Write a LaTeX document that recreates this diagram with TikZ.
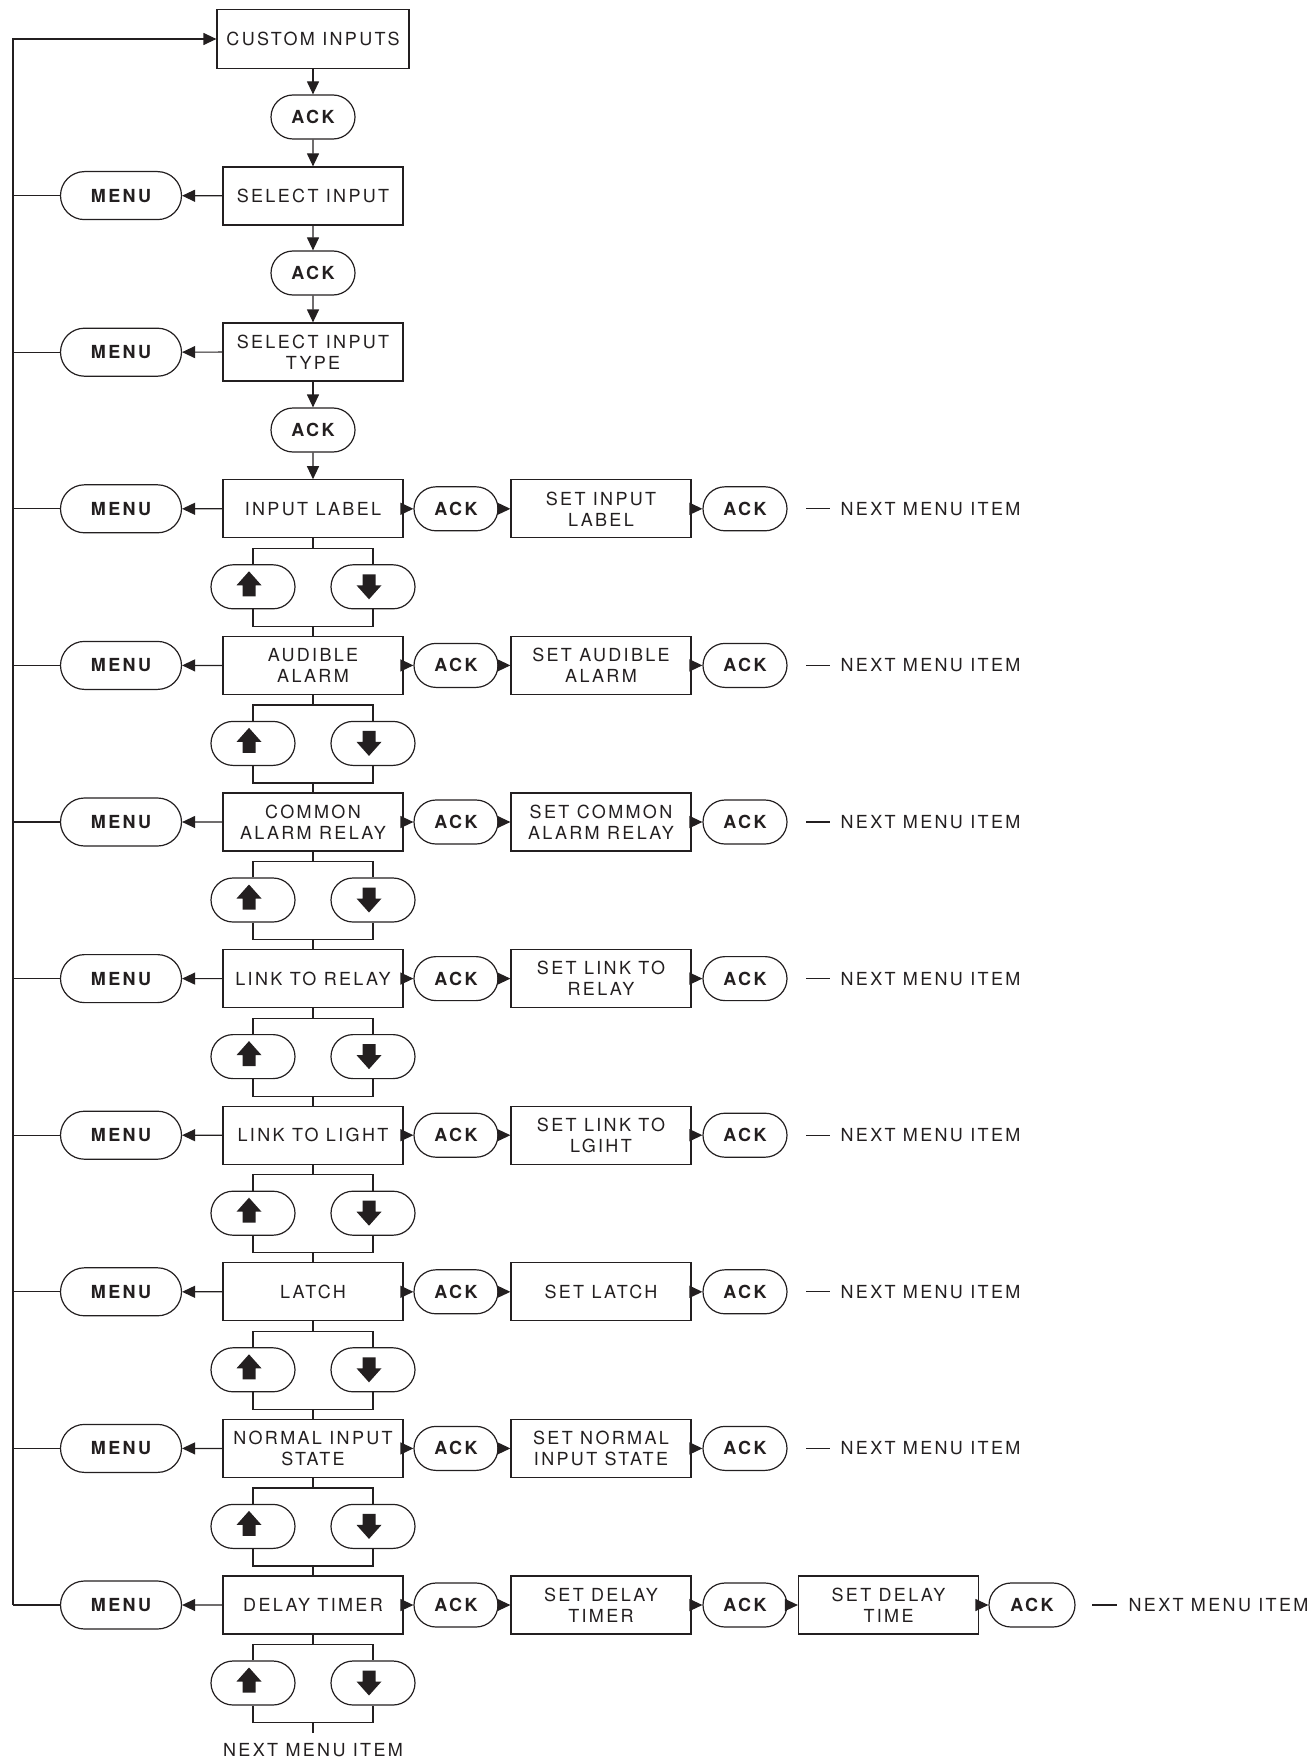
\documentclass[tikz,border=0pt]{standalone}
\usepackage{fontspec}
\setmainfont{TeX Gyre Heros}[LetterSpace=13]
\usetikzlibrary{shapes.misc,      % boutons arrondis
           arrows.meta,           % pointes de flèches
           positioning,
           calc}
\definecolor{ink}{HTML}{231F20}

\begin{document}
\begin{tikzpicture}[x=0.5pt,y=-0.5pt,line width=0.6pt,color=ink,
  font=\fontsize{9}{10.5}\selectfont,
  >={Triangle[length=6.5pt,width=6pt]},
  boite/.style={draw,minimum width=90pt,minimum height=29pt,inner sep=0pt,align=center},
  bouton/.style={draw,rounded rectangle,minimum width=42pt,minimum height=22pt,inner sep=0pt,
                 font=\fontsize{9}{10.5}\selectfont\bfseries},
  boutonmenu/.style={bouton,minimum width=60.5pt,minimum height=24pt},
  suite/.style={anchor=west,inner sep=0pt}]
\useasboundingbox (0,0) rectangle (1314,1760);
\node[boite,minimum width=96pt,minimum height=29.5pt](box0) at (313,39) {CUSTOM INPUTS};
\node[bouton](ack0) at (313,117) {ACK};
\node[boite](box1) at (313,196) {SELECT INPUT};
\node[bouton](ack1) at (313,273) {ACK};
\node[boite](box2) at (313,352) {SELECT INPUT\\TYPE};
\node[bouton](ack2) at (313,430) {ACK};
\foreach \i/\txt/\reg in {3/{INPUT LABEL}/{SET INPUT\\LABEL},
                          4/{AUDIBLE\\ALARM}/{SET AUDIBLE\\ALARM},
                          5/{COMMON\\ALARM RELAY}/{SET COMMON\\ALARM RELAY},
                          6/{LINK TO RELAY}/{SET LINK TO\\RELAY},
                          7/{LINK TO LIGHT}/{SET LINK TO\\LGIHT},
                          8/{LATCH}/{SET LATCH},
                          9/{NORMAL INPUT\\STATE}/{SET NORMAL\\INPUT STATE},
                          10/{DELAY TIMER}/{SET DELAY\\TIMER}}{
  \node[boite](box\i) at (313,{39+156.6*\i}) {\txt};
  \node[bouton](ackA\i) at (456,{39+156.6*\i}) {ACK};
  \node[boite](set\i) at (601,{39+156.6*\i}) {\reg};
  \node[bouton](ackB\i) at (745,{39+156.6*\i}) {ACK};
  \node[bouton](up\i) at (253,{117+156.6*\i}) {};
  \node[bouton](dn\i) at (373,{117+156.6*\i}) {};
}
\foreach \i in {1,...,10}
  \node[boutonmenu](menu\i) at (121,{39+156.6*\i}) {MENU};
\foreach \i in {3,...,9}{
  \coordinate (dsh\i) at (806,{39+156.6*\i});
  \node[suite](nxt\i) at (840,{39+156.6*\i}) {NEXT MENU ITEM};
  \draw (dsh\i) -- ([xshift=-5pt]nxt\i.west);
}
\node[boite](set11) at (888.5,1605) {SET DELAY\\TIME};
\node[bouton,minimum width=43pt](ackC) at (1032,1605) {ACK};
\coordinate (dshC) at (1092,1605);
\node[suite](nxtC) at (1128,1605) {NEXT MENU ITEM};
\draw (dshC) -- ([xshift=-5.5pt]nxtC.west);
\draw[->] (ackB10) -- (set11);
\draw[->] (set11) -- (ackC);
\node[inner sep=5pt](nxtend) at (313,1750) {NEXT MENU ITEM};

\coordinate (lt) at (13,39);
\coordinate (lb) at (13,1605);
\draw[->] (lb) -- (lt) -- (box0);
\draw[->] (box0) -- (ack0);
\draw[->] (ack0) -- (box1);
\draw[->] (box1) -- (ack1);
\draw[->] (ack1) -- (box2);
\draw[->] (box2) -- (ack2);
\draw[->] (ack2) -- (box3);
\foreach \i in {1,...,10}{
  \draw[->] (box\i) -- (menu\i);
  \draw (menu\i) -- (menu\i -| lt);
}
\foreach \i in {3,...,10}{
  \draw[->] (box\i) -- (ackA\i);
  \draw[->] (ackA\i) -- (set\i);
  \draw[->] (set\i) -- (ackB\i);
  \path (box\i.south) ++(0,10) coordinate (t\i) ++(0,78) coordinate (b\i);
  \draw (box\i.south) -- (t\i);
  \draw (up\i.north) |- (t\i) -| (dn\i.north);
  \draw (up\i.south) |- (b\i) -| (dn\i.south);
  \fill[shift={(up\i)},shift={(-4,-3)}] (0,-12.5) -- (12.5,1.5) -- (6.5,1.5) -- (6.5,12.5)
        -- (-6.5,12.5) -- (-6.5,1.5) -- (-12.5,1.5) -- cycle;
  \fill[shift={(dn\i)},shift={(-4,0)}] (0,12.5) -- (12.5,-1.5) -- (6.5,-1.5) -- (6.5,-12.5)
        -- (-6.5,-12.5) -- (-6.5,-1.5) -- (-12.5,-1.5) -- cycle;
}
\foreach \i [evaluate=\i as \n using int(\i+1)] in {3,...,9}
  \draw (b\i) -- (box\n);
\draw (b10) -- (nxtend);
\end{tikzpicture}
\end{document}
